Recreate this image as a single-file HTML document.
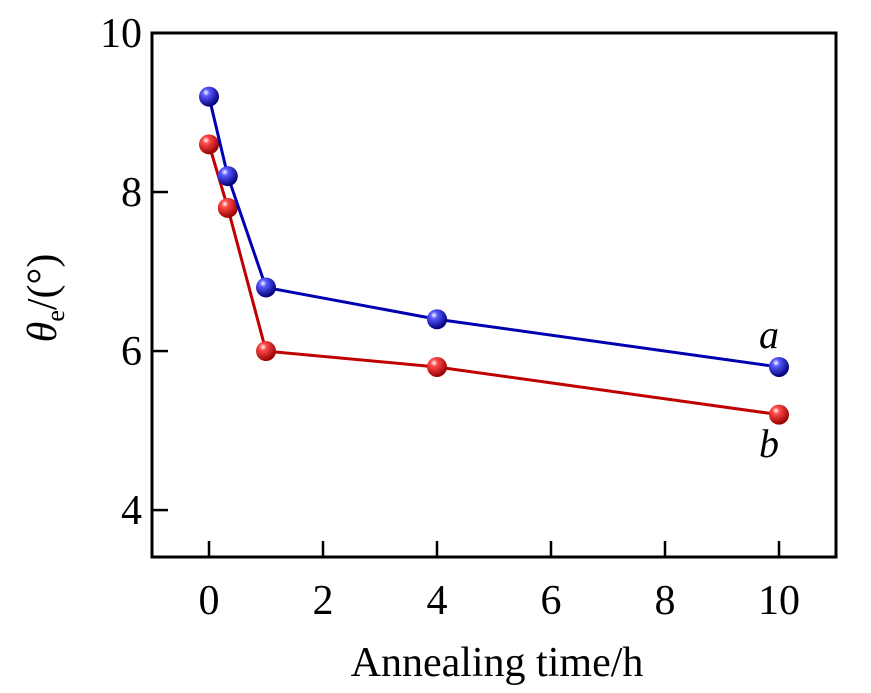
<!DOCTYPE html>
<html><head><meta charset="utf-8"><style>
body{margin:0;background:#fff}
svg{display:block;font-family:"Liberation Serif",serif}
</style></head><body>
<svg id="chart" width="871" height="693">
<defs>
<radialGradient id="gb" cx="35%" cy="30%" r="70%"><stop offset="0" stop-color="#fff"/><stop offset="0.25" stop-color="#5a5aff"/><stop offset="1" stop-color="#00007a"/></radialGradient>
<radialGradient id="gr" cx="35%" cy="30%" r="70%"><stop offset="0" stop-color="#fff"/><stop offset="0.25" stop-color="#ff4a4a"/><stop offset="1" stop-color="#9a0000"/></radialGradient>
</defs>
<g id="plot"></g>
</svg>
<script>
const xVals=[0,0.33,1,4,10];
const seriesA=[9.2,8.2,6.8,6.4,5.8];
const seriesB=[8.6,7.8,6.0,5.8,5.2];
const xTicks=[0,2,4,6,8,10];
const yTicks=[4,6,8,10];
const L=152,R=836,T=33,B=557,xMin=-1,xMax=11,yMin=3.41,yMax=10;
const X=v=>L+(v-xMin)/(xMax-xMin)*(R-L);
const Y=v=>B-(v-yMin)/(yMax-yMin)*(B-T);
const g=document.getElementById('plot');
const NS='http://www.w3.org/2000/svg';
function mk(t,a,txt){const e=document.createElementNS(NS,t);for(const k in a)e.setAttribute(k,a[k]);if(txt!=null)e.textContent=txt;g.appendChild(e);return e;}
let e=mk('rect',{x:L,y:T,width:R-L,height:B-T,fill:'none',stroke:'#000','stroke-width':3});


xTicks.forEach(v=>{
 let t=mk('line',{x1:X(v),x2:X(v),y1:B,y2:B-16,stroke:'#000','stroke-width':2.5});
 
 
 let l=mk('text',{x:X(v),y:B+57,'text-anchor':'middle','font-size':42},v);
 
 
});
yTicks.forEach(v=>{
 let t=mk('line',{x1:L,x2:L+16,y1:Y(v),y2:Y(v),stroke:'#000','stroke-width':2.5});
 
 
 let l=mk('text',{x:L-10,y:Y(v)+14,'text-anchor':'end','font-size':42},v);
 
 
});
function series(vals,color,grad,name){
 let p=mk('polyline',{points:vals.map((v,i)=>X(xVals[i])+','+Y(v)).join(' '),fill:'none',stroke:color,'stroke-width':3});
 
 
 vals.forEach((v,i)=>{
  let c=mk('circle',{cx:X(xVals[i]),cy:Y(v),r:10,fill:'url(#'+grad+')'});
  
  
 });
}
series(seriesB,'#c00000','gr','series-b');
series(seriesA,'#0000b0','gb','series-a');
e=mk('text',{x:769,y:348,'text-anchor':'middle','font-size':40,'font-style':'italic'},'a');


e=mk('text',{x:769,y:457,'text-anchor':'middle','font-size':40,'font-style':'italic'},'b');


e=mk('text',{x:497,y:676,'text-anchor':'middle','font-size':42},'Annealing time/h');


e=mk('text',{transform:'translate(56,298) rotate(-90)','text-anchor':'middle','font-size':42});
e.innerHTML='<tspan font-style="italic">θ</tspan><tspan font-size="26" dy="8">e</tspan><tspan dy="-8">/(°)</tspan>';


</script>
</body></html>
